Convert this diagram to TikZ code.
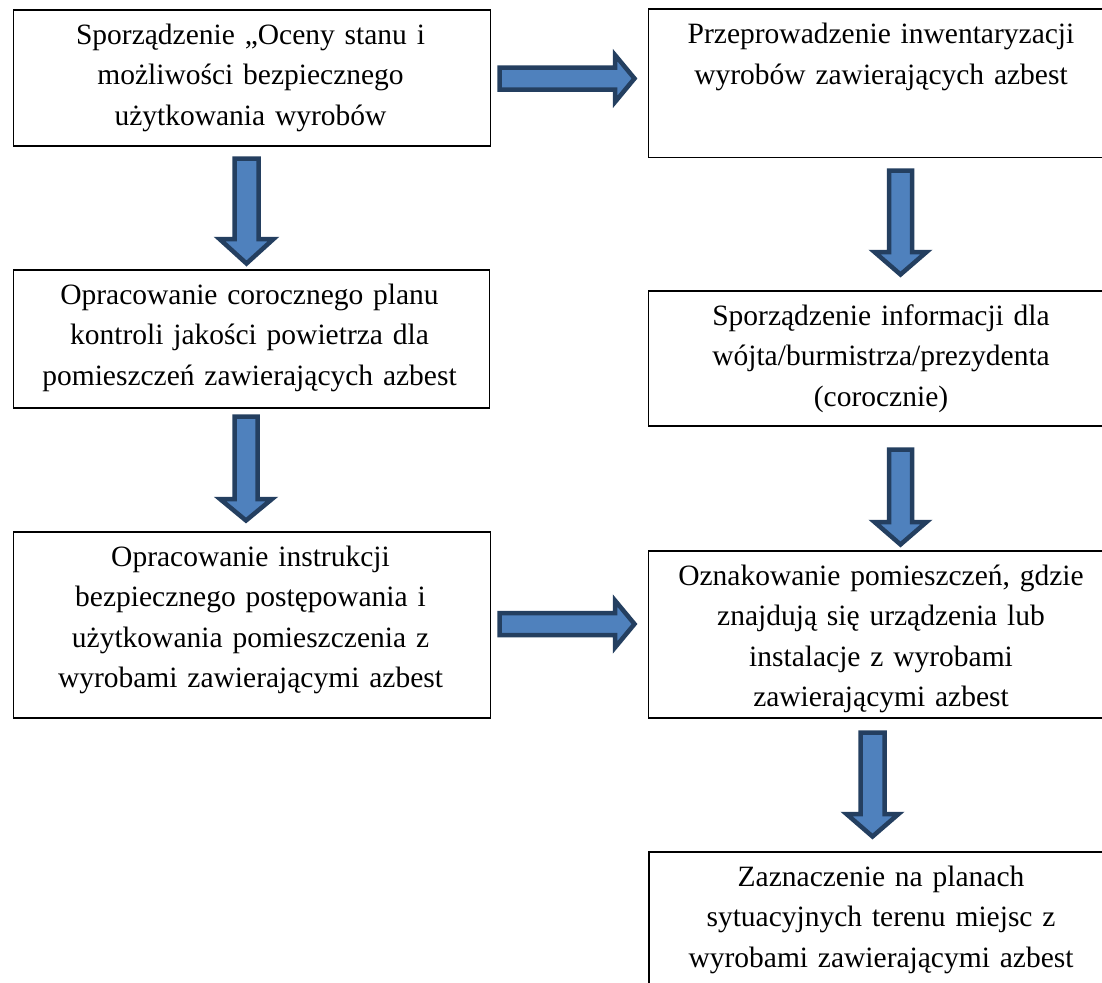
\documentclass[tikz,border=0pt]{standalone}
\usepackage{fontspec}
\setmainfont{Liberation Serif}
\definecolor{blkfill}{HTML}{4F81BD}
\definecolor{blkline}{HTML}{243F60}
\newcommand{\vblk}[6]{% cx, top, headstart, tip, shaft half, head half
  \draw[blkarrow] (#1-#5,#2) -- (#1+#5,#2) -- (#1+#5,#3) -- (#1+#6,#3) -- (#1,#4) -- (#1-#6,#3) -- (#1-#5,#3) -- cycle;}
\newcommand{\hblk}[6]{% cy, left, headstart, tip, shaft half, head half
  \draw[blkarrow] (#2,#1-#5) -- (#3,#1-#5) -- (#3,#1-#6) -- (#4,#1) -- (#3,#1+#6) -- (#3,#1+#5) -- (#2,#1+#5) -- cycle;}
\begin{document}
\begin{tikzpicture}[x=1pt,y=-1pt,
  box/.style={draw=black, line width=1.6pt, inner sep=0pt, anchor=north west},
  txt/.style={anchor=north, align=center, inner sep=0pt, text width=470pt,
    font=\fontsize{29.5}{40.5}\selectfont},
  blkarrow/.style={fill=blkfill, draw=blkline, line width=4.5pt, line join=miter}]
\useasboundingbox (0,0) rectangle (1102,982);
\fill[white] (0,0) rectangle (1102,982);
% boxes
\node[box, minimum width=477pt, minimum height=136pt] (b1) at (12.5,9) {};
\node[box, minimum width=466pt, minimum height=148pt] (b2) at (647.5,8.5) {};
\node[box, minimum width=476pt, minimum height=138pt] (b3) at (12.5,269) {};
\node[box, minimum width=466pt, minimum height=135pt] (b4) at (647.5,290) {};
\node[box, minimum width=477pt, minimum height=186pt] (b5) at (12.5,531) {};
\node[box, minimum width=466pt, minimum height=167pt] (b6) at (647.5,550) {};
\node[box, minimum width=466pt, minimum height=160pt] (b7) at (648,851) {};
% texts
\node[txt] (t1) at (250.5,9+6.6) {\strut Sporządzenie „Oceny stanu i\\ możliwości bezpiecznego\\ użytkowania wyrobów};
\node[txt] (t2) at (881,8.5+6.6) {\strut Przeprowadzenie inwentaryzacji\\ wyrobów zawierających azbest};
\node[txt] (t3) at (249.5,269+6.6) {\strut Opracowanie corocznego planu\\ kontroli jakości powietrza dla\\ pomieszczeń zawierających azbest};
\node[txt] (t4) at (881,290+6.6) {\strut Sporządzenie informacji dla\\ wójta/burmistrza/prezydenta\\ (corocznie)};
\node[txt] (t5) at (250.5,531+6.6) {\strut Opracowanie instrukcji\\ bezpiecznego postępowania i\\ użytkowania pomieszczenia z\\ wyrobami zawierającymi azbest};
\node[txt] (t6) at (881,550+6.6) {\strut Oznakowanie pomieszczeń, gdzie\\ znajdują się urządzenia lub\\ instalacje z wyrobami\\ zawierającymi azbest};
\node[txt] (t7) at (881,851+6.6) {\strut Zaznaczenie na planach\\ sytuacyjnych terenu miejsc z\\ wyrobami zawierającymi azbest};
% block arrows
\vblk{246.5}{158.5}{239}{263.5}{12}{27}
\vblk{246}{416.5}{499}{520.5}{11.5}{26}
\vblk{900.5}{170.5}{252}{274.5}{11.5}{26}
\vblk{900.5}{449.5}{522}{544.5}{11.5}{26}
\vblk{872.5}{732.5}{814}{836.5}{12}{26}
\hblk{78.5}{499.5}{615}{634.5}{11}{23.5}
\hblk{624}{499.5}{615}{634.5}{11}{23.5}
\end{tikzpicture}
\end{document}
